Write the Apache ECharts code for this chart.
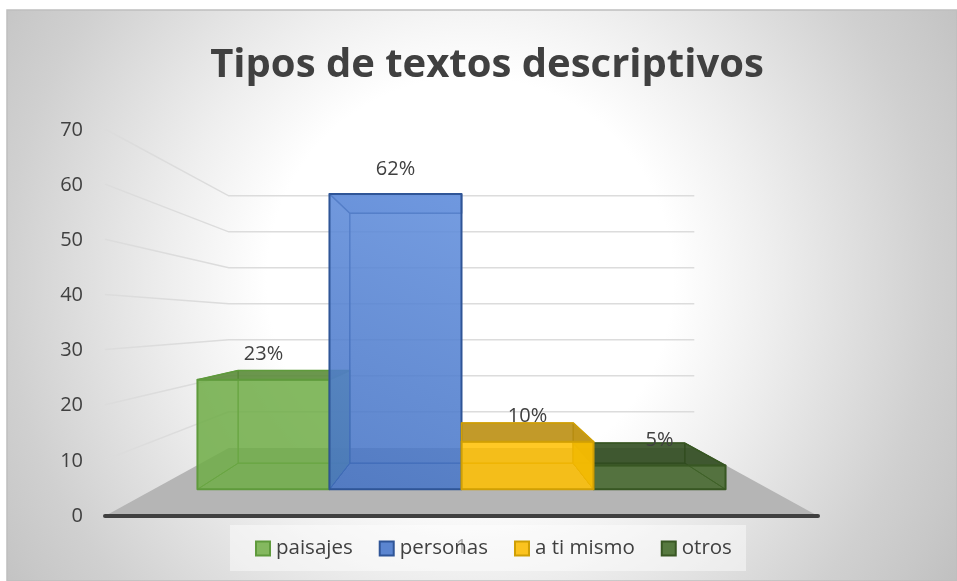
<!DOCTYPE html>
<html>
<head>
<meta charset="utf-8">
<style>
  html, body { margin: 0; padding: 0; background: #fff; }
  #main { width: 957px; height: 581px; }
</style>
<script src="https://cdn.jsdelivr.net/npm/echarts@6/dist/echarts.min.js"></script>
</head>
<body>
<div id="main"></div>
<script>
var titleText = 'Tipos de textos descriptivos'
var categories = ['1']
var seriesNames = ['paisajes', 'personas', 'a ti mismo', 'otros']
var paisajes = [23]
var personas = [62]
var aTiMismo = [10]
var otros = [5]
var barValues = [paisajes, personas, aTiMismo, otros]
var barLabels = ['23%', '62%', '10%', '5%']
var gridTicks = [10, 20, 30, 40, 50, 60, 70]

var font = '"Open Sans", "Noto Sans", sans-serif'
var textColor = '#404040'
// fill, top face, border
var colors = [
  { fill: '112,173,71', top: '84,130,53', side: 0.62, line: '#5f9a3c', legend: '#84b85f' },
  { fill: '68,114,196', top: '68,114,196', side: 0.62, line: '#2f5597', legend: '#5b85d0' },
  { fill: '255,192,0', top: '170,130,20', side: 0.8, line: '#cf9f05', legend: '#fbc31f' },
  { fill: '67,104,43', top: '45,70,29', side: 0.62, line: '#385723', legend: '#56793f' }
]
// outer boxes first, the box nearest the middle goes on top
var drawOrder = [0, 1, 3, 2]

// perspective: depth factors, front of the floor is 1
var depthBack = 0.653
var depthBarFront = 0.864
var depthBarBack = 0.731
var vanishValue = 35.6
var barBand = 0.2143

function project(api, x, y, k) {
  var vp = api.coord([0, vanishValue])
  return [vp[0] + (x - vp[0]) * k, vp[1] + (y - vp[1]) * k]
}

function renderFloor(params, api) {
  var cs = params.coordSys
  var y0 = api.coord([0, 0])[1]
  return {
    type: 'polygon',
    shape: {
      points: [
        [cs.x, y0],
        [cs.x + cs.width, y0],
        project(api, cs.x + cs.width, y0, depthBack),
        project(api, cs.x, y0, depthBack)
      ]
    },
    style: { fill: '#b5b5b5' }
  }
}

function renderGridLine(params, api) {
  var cs = params.coordSys
  var y = api.coord([0, api.value(0)])[1]
  return {
    type: 'polyline',
    shape: {
      points: [
        [cs.x, y - 1],
        project(api, cs.x, y, depthBack),
        project(api, cs.x + cs.width, y, depthBack)
      ]
    },
    style: { fill: null, stroke: '#dcdcdc', lineWidth: 1.5 }
  }
}

function makeBoxRender(index) {
  return function (params, api) {
    var cs = params.coordSys
    var c = colors[index]
    var band = cs.width * barBand
    var x0 = cs.x + cs.width / 2 + (index - 2) * band
    var x1 = x0 + band
    var y0 = api.coord([0, 0])[1]
    var y1 = api.coord([0, api.value(1)])[1]
    function p(x, y, k) { return project(api, x, y, k) }
    var fl = p(x0, y0, depthBarFront), fr = p(x1, y0, depthBarFront)
    var tl = p(x0, y1, depthBarFront), tr = p(x1, y1, depthBarFront)
    var bfl = p(x0, y0, depthBarBack), bfr = p(x1, y0, depthBarBack)
    var btl = p(x0, y1, depthBarBack), btr = p(x1, y1, depthBarBack)
    var fill = 'rgba(' + c.fill + ',0.62)'
    var frontFill = fill
    if (index === 1) {
      frontFill = new echarts.graphic.LinearGradient(1, 0, 0, 1, [
        { offset: 0, color: 'rgba(108,152,228,0.7)' },
        { offset: 1, color: 'rgba(68,114,196,0.66)' }
      ])
    }
    var topFill = 'rgba(' + c.top + ',0.72)'
    function face(points, f, width) {
      return {
        type: 'polygon',
        shape: { points: points },
        style: { fill: f, stroke: c.line, lineWidth: width, lineJoin: 'round', opacity: 1 }
      }
    }
    return {
      type: 'group',
      children: [
        face([bfl, bfr, btr, btl], fill, 1),
        face([fl, fr, bfr, bfl], fill, 1),
        face([fl, bfl, btl, tl], fill, 1),
        face([fr, bfr, btr, tr], 'rgba(' + c.fill + ',' + c.side + ')', 1),
        face([tl, tr, btr, btl], topFill, 1.5),
        face([fl, fr, tr, tl], frontFill, 2),
        {
          type: 'text',
          style: {
            text: barLabels[index],
            x: (tl[0] + tr[0]) / 2,
            y: tl[1] - 25,
            align: 'center',
            verticalAlign: 'middle',
            font: '20px ' + font,
            fill: textColor
          },
          z2: 50
        }
      ]
    }
  }
}

var series = [
  { name: 'floor', type: 'custom', z: 1, silent: true, clip: false, data: [[0, 0]], renderItem: renderFloor },
  {
    name: 'grid', type: 'custom', z: 2, silent: true, clip: false,
    data: gridTicks.map(function (t) { return [t] }),
    encode: { y: 0 },
    renderItem: renderGridLine
  }
]
drawOrder.forEach(function (i) {
  series.push({
    name: seriesNames[i],
    type: 'custom',
    z: 3,
    clip: false,
    itemStyle: { color: colors[i].legend, borderColor: colors[i].line, borderWidth: 2 },
    encode: { x: 0, y: 1 },
    data: barValues[i].map(function (v, j) { return [j, v] }),
    renderItem: makeBoxRender(i)
  })
})

var chart = echarts.init(document.getElementById('main'), null, { renderer: 'canvas' })
chart.setOption({
  animation: false,
  backgroundColor: '#fff',
  graphic: [
    {
      type: 'rect',
      z: -10,
      silent: true,
      shape: { x: 7, y: 10, width: 950, height: 571 },
      style: {
        fill: new echarts.graphic.RadialGradient(470, 280, 580, [
          { offset: 0, color: '#ffffff' },
          { offset: 0.35, color: '#ffffff' },
          { offset: 0.52, color: '#eeeeee' },
          { offset: 0.65, color: '#e0e0e0' },
          { offset: 0.8, color: '#d0d0d0' },
          { offset: 0.9, color: '#c8c8c8' },
          { offset: 1, color: '#bfbfbf' }
        ], true),
        stroke: '#bfbfbf',
        lineWidth: 1.5
      }
    },
    {
      type: 'rect',
      z: 8,
      silent: true,
      shape: { x: 230, y: 525, width: 516, height: 46 },
      style: { fill: 'rgba(255,255,255,0.45)' }
    }
  ],
  title: {
    text: titleText,
    left: 482,
    top: 41,
    textAlign: 'center',
    textStyle: { fontFamily: font, fontSize: 40, fontWeight: 'bold', color: textColor }
  },
  legend: {
    data: seriesNames,
    left: 230,
    top: 527,
    width: 600,
    padding: [11, 16, 11, 25],
    itemGap: 26,
    itemWidth: 14,
    itemHeight: 14,
    icon: 'rect',
    textStyle: { fontFamily: font, fontSize: 20.5, color: textColor, padding: [0, 0, 0, 1] },
    selectedMode: false,
    z: 20
  },
  grid: { left: 105, right: 139, top: 130, bottom: 65 },
  xAxis: {
    type: 'category',
    data: categories,
    z: 5,
    axisTick: { show: false },
    axisLine: { lineStyle: { color: '#404040', width: 4, cap: 'round' } },
    axisLabel: { margin: 21, fontFamily: font, fontSize: 20, color: '#6a6a6a' }
  },
  yAxis: {
    type: 'value',
    min: 0,
    max: 70,
    interval: 10,
    splitLine: { show: false },
    axisLine: { show: false },
    axisTick: { show: false },
    axisLabel: { margin: 22, fontFamily: font, fontSize: 20, color: textColor, padding: [6, 0, 0, 0] }
  },
  series: series
})
</script>
</body>
</html>
